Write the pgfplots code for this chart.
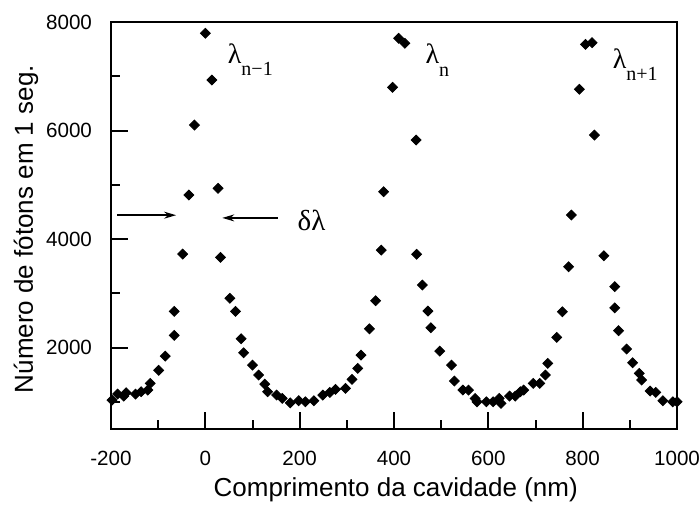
\documentclass[border=0pt]{standalone}
\usepackage{fontspec}
\setmainfont{Liberation Sans}
\newfontfamily\serif{Liberation Serif}
\usepackage{pgfplots}
\pgfplotsset{compat=1.18}
\usetikzlibrary{arrows.meta}

\begin{document}
\begin{tikzpicture}
\begin{axis}[
  scale only axis,
  width=283pt, height=203.5pt,
  xmin=-200, xmax=1000, ymin=500, ymax=8000,
  xtick={-200,0,...,1000}, ytick={2000,4000,6000,8000},
  minor xtick={-100,100,...,900}, minor ytick={1000,3000,5000,7000},
  xtick pos=bottom, ytick pos=left,
  tick align=inside,
  major tick length=8.5pt, minor tick length=4.5pt,
  axis line style={line width=1pt},
  every tick/.style={black, line width=1pt},
  /pgf/number format/assume math mode=true,
  /pgf/number format/1000 sep={},
  ticklabel style={font=\fontsize{10.3}{12}\selectfont},
  xticklabel shift=7.5pt, yticklabel shift=6pt,
  xlabel={Comprimento da cavidade (nm)},
  ylabel={Número de fótons em 1 seg.},
  xlabel style={font=\fontsize{13}{15}\selectfont, at={(axis description cs:0.503,-0.167)}, anchor=base},
  ylabel style={font=\fontsize{13}{15}\selectfont, at={(axis description cs:-0.150,0.491)}, anchor=center},
  clip=false,
]
\addplot[only marks, mark=square*, mark size=1.75pt, mark options={rotate=45, fill=black, draw=black}] table {
x y
-198 1033
-186 1144
-173 1107
-168 1168
-148 1144
-136 1187
-122 1218
-117 1341
-99 1581
-85 1844
-66 2226
-66 2668
-48 3724
-35 4812
-23 6102
0 7792
14 6931
27 4935
32 3663
52 2908
64 2668
76 2163
81 1905
100 1678
113 1494
126 1328
132 1187
151 1126
163 1064
180 983
198 1021
212 1002
230 1021
249 1126
264 1175
276 1230
297 1249
311 1415
323 1617
330 1863
348 2347
361 2864
373 3798
378 4873
397 6796
410 7700
423 7607
447 5825
448 3719
460 3153
472 2674
478 2366
497 1937
522 1678
528 1383
546 1218
558 1218
572 1064
576 1002
596 1002
610 1002
623 1064
627 972
645 1107
657 1107
668 1187
675 1218
695 1341
709 1341
721 1494
726 1710
745 2189
757 2660
770 3490
776 4443
793 6760
806 7589
820 7620
825 5917
845 3693
868 3122
868 2734
876 2311
893 1974
906 1721
920 1526
925 1402
943 1199
955 1175
970 1021
991 1002
1000 1002
};
\draw[line width=0.7pt, -{Stealth[length=6pt,width=3.5pt]}] (axis cs:-187,4440) -- (axis cs:-62,4440);
\draw[line width=0.7pt, -{Stealth[length=6pt,width=3.5pt]}] (axis cs:153,4390) -- (axis cs:36,4390);
\node[anchor=base west, inner sep=0pt] at (axis cs:195,4167) {\serif\fontsize{14.5}{18}\selectfont δλ};
\node[anchor=base west, inner sep=0pt] at (axis cs:47,7244) {\serif\fontsize{14}{18}\selectfont λ\raisebox{-6pt}{\fontsize{10}{12}\selectfont n−1}};
\node[anchor=base west, inner sep=0pt] at (axis cs:466,7244) {\serif\fontsize{14}{18}\selectfont λ\raisebox{-6.5pt}{\fontsize{10}{12}\selectfont n}};
\node[anchor=base west, inner sep=0pt] at (axis cs:863,7152) {\serif\fontsize{14}{18}\selectfont λ\raisebox{-6pt}{\fontsize{10}{12}\selectfont n+1}};
\end{axis}
\pgfresetboundingbox
\path ([shift={(-55.5pt,-38pt)}]current axis.south west) rectangle ([shift={(11pt,11pt)}]current axis.north east);
\end{tikzpicture}
\end{document}
